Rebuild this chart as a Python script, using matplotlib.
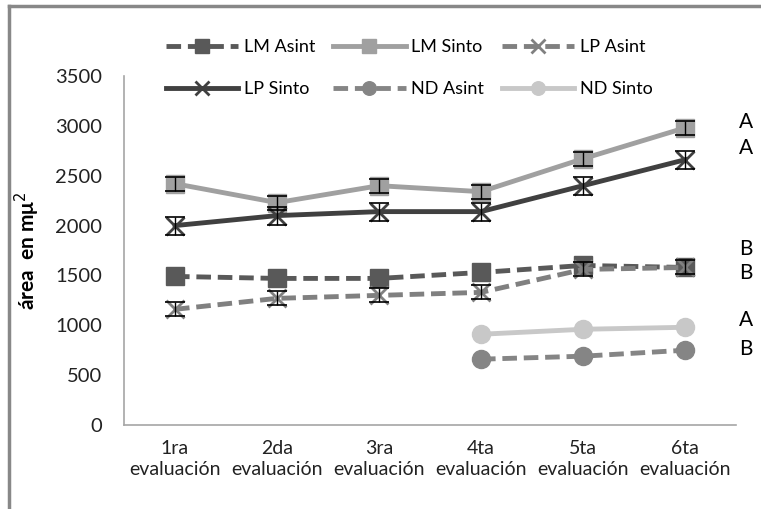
import numpy as np
import matplotlib
matplotlib.use("Agg")
import matplotlib.pyplot as plt
from matplotlib.lines import Line2D

plt.rcParams['font.family'] = ['Lato', 'DejaVu Sans']

# data
categorias = ['1ra\nevaluación', '2da\nevaluación', '3ra\nevaluación',
              '4ta\nevaluación', '5ta\nevaluación', '6ta\nevaluación']
lm_asint = [1490, 1470, 1470, 1530, 1600, 1580]
lm_sinto = [2420, 2230, 2400, 2340, 2670, 2980]
lp_asint = [1160, 1270, 1300, 1330, 1560, 1580]
lp_sinto = [2000, 2100, 2140, 2140, 2400, 2660]
nd_asint = [np.nan, np.nan, np.nan, 660, 690, 750]
nd_sinto = [np.nan, np.nan, np.nan, 910, 960, 980]
err_lm_sinto = [70, 70, 70, 70, 70, 70]
err_lp_sinto = [90, 90, 90, 90, 90, 90]
err_lp_asint = [70, 70, 70, 70, 70, 70]
letras = ['A', 'A', 'B', 'B', 'A', 'B']
letras_y = [3040, 2780, 1770, 1520, 1050, 760]

x = np.arange(len(categorias))

fig = plt.figure(figsize=(7.61, 5.09), dpi=100)
ax = fig.add_axes([124/761, 1-425/509, 612/761, 349/509])

dash = (3, 1.4)
h_lma, = ax.plot(x, lm_asint, color='#595959', lw=3.5, ls='--', dashes=dash, marker='s', ms=13,
                 label='LM Asint', zorder=3)
h_lms, = ax.plot(x, lm_sinto, color='#a0a0a0', lw=3.5, marker='s', ms=13, label='LM Sinto', zorder=3)
h_lpa, = ax.plot(x, lp_asint, color='#808080', lw=3.5, ls='--', dashes=dash, marker='x', ms=13,
                 mew=2, label='LP Asint', zorder=4)
h_lps, = ax.plot(x, lp_sinto, color='#404040', lw=3.5, marker='x', ms=13, mew=2,
                 label='LP Sinto', zorder=4)
h_nda, = ax.plot(x, nd_asint, color='#858585', lw=3.5, ls='--', dashes=dash, marker='o', ms=13,
                 label='ND Asint', zorder=3)
h_nds, = ax.plot(x, nd_sinto, color='#c8c8c8', lw=3.5, marker='o', ms=13, label='ND Sinto', zorder=3)

for vals, err in [(lm_sinto, err_lm_sinto), (lp_sinto, err_lp_sinto), (lp_asint, err_lp_asint)]:
    ax.errorbar(x, vals, yerr=err, fmt='none', ecolor='black', elinewidth=1,
                capsize=7, capthick=1.2, zorder=5)

ax.set_xlim(-0.5, 5.5)
ax.set_ylim(0, 3500)
ax.set_yticks(np.arange(0, 3501, 500))
ax.set_xticks(x)
ax.set_xticklabels(categorias, fontsize=14, color='#222222', linespacing=1.3)
ax.tick_params(axis='y', length=0, labelsize=14.5, pad=16, labelcolor='#222222')
ax.tick_params(axis='x', length=0, pad=11)
for s in ['top', 'right']:
    ax.spines[s].set_visible(False)
for s in ['left', 'bottom']:
    ax.spines[s].set_color('#a6a6a6')
    ax.spines[s].set_linewidth(1.2)
ax.set_ylabel('área  en mμ$^2$', fontsize=15, fontweight='bold')
ax.yaxis.set_label_coords(-0.134, 0.5)

for t, yv in zip(letras, letras_y):
    ax.text(5.6, yv, t, fontsize=15, ha='center', va='center', clip_on=False)

# legend filled column by column, so order to read row-wise like the reference
handles = [h_lma, h_lps, h_lms, h_nda, h_lpa, h_nds]
fig.legend(handles, [h.get_label() for h in handles], loc='upper left',
           bbox_to_anchor=(150/761, 1-23/509), ncol=3, frameon=False, fontsize=13,
           handlelength=4.0, handletextpad=0.3, columnspacing=1.0, labelspacing=1.45,
           markerscale=0.75)

# outer chart frame (top and left visible)
fig.add_artist(Line2D([9/761, 1], [1-6/509, 1-6/509], color='#888888', lw=2.5))
fig.add_artist(Line2D([9/761, 9/761], [0, 1-6/509], color='#888888', lw=2.5))

fig.savefig('out.png', dpi=100)
